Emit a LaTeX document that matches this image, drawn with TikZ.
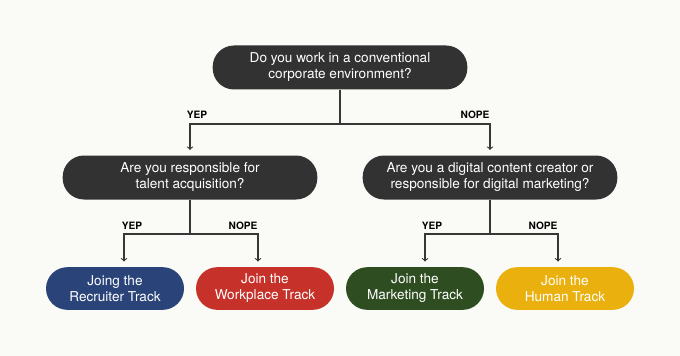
\documentclass[tikz,border=0pt]{standalone}
\usepackage{fontspec}
\setmainfont{TeX Gyre Heros}
\usepackage{tikz}
\usetikzlibrary{arrows, positioning, calc}
\definecolor{flowbg}{RGB}{250, 250, 246}
\definecolor{flowdark}{RGB}{50, 50, 50}
\definecolor{flowblue}{RGB}{42, 67, 120}
\definecolor{flowred}{RGB}{198, 49, 42}
\definecolor{flowgreen}{RGB}{46, 78, 33}
\definecolor{flowyellow}{RGB}{234, 176, 14}
\definecolor{flowline}{RGB}{55, 55, 55}

\begin{document}
\begin{tikzpicture}[
    x=0.75pt, y=-0.75pt,
    every node/.style={font=\fontsize{10.2}{12}\selectfont},
    question/.style={fill=flowdark, text=white, rounded corners=16pt, minimum width=191pt, minimum height=33pt, align=center, inner sep=0pt},
    track/.style={rounded corners=16pt, text=white, minimum width=103.5pt, minimum height=32pt, align=center, inner sep=0pt},
    answer/.style={font=\fontsize{7.6}{8}\selectfont\bfseries, text=black},
    link/.style={draw=flowline, line width=0.8pt},
    >=to
]

% Background
\fill[flowbg] (0,0) rectangle (680,356);

% Questions
\node[question] (q1) at (340,67.5) {Do you work in a conventional\\corporate environment?};
\node[question] (q2) at (190,177.5) {Are you responsible for\\talent acquisition?};
\node[question] (q3) at (490,177.5) {Are you a digital content creator or\\responsible for digital marketing?};

% Tracks
\node[track, fill=flowblue] (t1) at (115,288.5) {Joing the\\Recruiter Track};
\node[track, fill=flowred] (t2) at (265,288.5) {Join the\\Workplace Track};
\node[track, fill=flowgreen] (t3) at (415,288.5) {Join the\\Marketing Track};
\node[track, fill=flowyellow] (t4) at (565,288.5) {Join the\\Human Track};

% Junctions
\coordinate (j1) at (340,124);
\coordinate (j2) at (190,234);
\coordinate (j3) at (490,234);

% First split
\draw[link] (q1.south) -- (j1);
\draw[link, ->, shorten >=4pt] (j1) -| (q2.north);
\draw[link, ->, shorten >=4pt] (j1) -| (q3.north);
\node[answer] (a1) at (197,115) {YEP};
\node[answer] (a2) at (475,115) {NOPE};

% Left split
\draw[link] (q2.south) -- (j2);
\draw[link, ->, shorten >=4pt] (j2) -| ([shift={(9,0)}]t1.north);
\draw[link, ->, shorten >=4pt] (j2) -| ([shift={(-7,0)}]t2.north);
\node[answer] (a3) at (132,226) {YEP};
\node[answer] (a4) at (243,226) {NOPE};

% Right split
\draw[link] (q3.south) -- (j3);
\draw[link, ->, shorten >=4pt] (j3) -| ([shift={(10,0)}]t3.north);
\draw[link, ->, shorten >=4pt] (j3) -| ([shift={(-7,0)}]t4.north);
\node[answer] (a5) at (432,226) {YEP};
\node[answer] (a6) at (543,226) {NOPE};

\end{tikzpicture}
\end{document}
